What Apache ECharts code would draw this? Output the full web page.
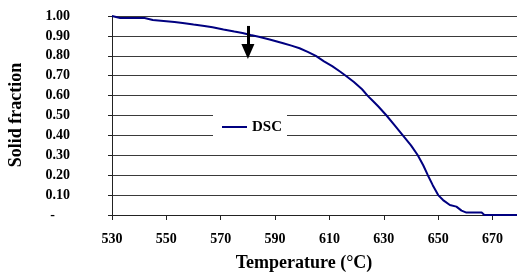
<!DOCTYPE html>
<html>
<head>
<meta charset="utf-8">
<script src="https://cdn.jsdelivr.net/npm/echarts@6/dist/echarts.min.js"></script>
<style>
  html, body { margin: 0; padding: 0; background: #fff; }
  #chart { width: 517px; height: 274px; }
</style>
</head>
<body>
<div id="chart"></div>
<script>
  // temperatures (°C)
  const temps = [530, 533, 542, 545, 549, 553, 556, 560, 564, 567, 571, 575, 578, 581, 584, 588,
    593, 596, 599, 602, 605, 608, 611, 614, 616, 619, 622, 624, 626, 628, 631, 634, 637, 640,
    642.5, 644.5, 646.2, 648, 650, 651.8, 654.3, 656.7, 658.6, 660.4, 666, 667, 679]
  // solid fraction at each temperature
  const solidFrac = [1.00, 0.99, 0.99, 0.98, 0.975, 0.97, 0.965, 0.957, 0.95, 0.943, 0.932, 0.922, 0.915, 0.905, 0.896, 0.882,
    0.863, 0.851, 0.838, 0.82, 0.80, 0.772, 0.748, 0.72, 0.70, 0.668, 0.632, 0.60, 0.573, 0.545, 0.50, 0.45, 0.40, 0.35,
    0.30, 0.25, 0.20, 0.15, 0.10, 0.075, 0.05, 0.042, 0.022, 0.012, 0.012, 0.00, 0.00]
  // arrow marker (start / end of the shaft)
  const arrowT = 580
  const arrowFrac = [0.95, 0.822]

  const font = 'Liberation Serif, Times New Roman, serif'

  const chart = echarts.init(document.getElementById('chart'))

  const option = {
    animation: false,
    backgroundColor: '#fff',
    grid: { left: 112, right: 0, top: 16, bottom: 59 },
    xAxis: {
      type: 'value',
      min: 530,
      max: 679,
      interval: 20,
      axisLine: { show: true, lineStyle: { color: '#222', width: 1 } },
      axisTick: { show: true, length: 5, lineStyle: { color: '#222' } },
      splitLine: { show: false },
      axisLabel: {
        margin: 17,
        color: '#000',
        fontFamily: font,
        fontWeight: 'bold',
        fontSize: 14,
        showMaxLabel: false,
        formatter: v => (v % 20 === 10 ? String(v) : '')
      }
    },
    yAxis: {
      type: 'value',
      min: 0,
      max: 1,
      interval: 0.1,
      axisLine: { show: true, lineStyle: { color: '#222', width: 1 } },
      axisTick: { show: true, length: 4, lineStyle: { color: '#222' } },
      splitLine: { show: true, lineStyle: { color: '#3a3a3a', width: 1 } },
      axisLabel: {
        margin: 42,
        color: '#000',
        fontFamily: font,
        fontWeight: 'bold',
        fontSize: 14,
        formatter: v => (Math.abs(v) < 1e-9 ? '{d|-}' : v.toFixed(2)),
        rich: {
          d: { fontFamily: font, fontWeight: 'bold', fontSize: 14, color: '#000', padding: [0, 15, 0, 0] }
        }
      }
    },
    legend: {
      left: 213,
      top: 108,
      padding: [10, 5, 10, 9],
      backgroundColor: '#fff',
      itemWidth: 25,
      itemHeight: 2,
      itemGap: 0,
      textStyle: { fontFamily: font, fontWeight: 'bold', fontSize: 15, color: '#000', lineHeight: 18 },
      data: [{ name: 'DSC', icon: 'rect', itemStyle: { color: '#000080' } }]
    },
    series: [{
      name: 'DSC',
      type: 'line',
      symbol: 'none',
      data: temps.map((t, i) => [t, solidFrac[i]]),
      lineStyle: { color: '#000080', width: 2 },
      itemStyle: { color: '#000080' },
      markLine: {
        silent: true,
        symbol: ['none', 'triangle'],
        symbolSize: [13, 15],
        label: { show: false },
        lineStyle: { color: '#000', width: 3, type: 'solid' },
        data: [[
          { coord: [arrowT, arrowFrac[0]] },
          { coord: [arrowT, arrowFrac[1]] }
        ]]
      }
    }],
    graphic: [
      {
        type: 'text',
        x: 304,
        y: 263,
        style: {
          text: 'Temperature (°C)',
          font: 'bold 18px ' + font,
          fill: '#000',
          align: 'center',
          verticalAlign: 'middle'
        }
      },
      {
        type: 'text',
        x: 16,
        y: 115,
        rotation: Math.PI / 2,
        style: {
          text: 'Solid fraction',
          font: 'bold 18px ' + font,
          fill: '#000',
          align: 'center',
          verticalAlign: 'middle'
        }
      }
    ]
  }

  chart.setOption(option)
</script>
</body>
</html>
